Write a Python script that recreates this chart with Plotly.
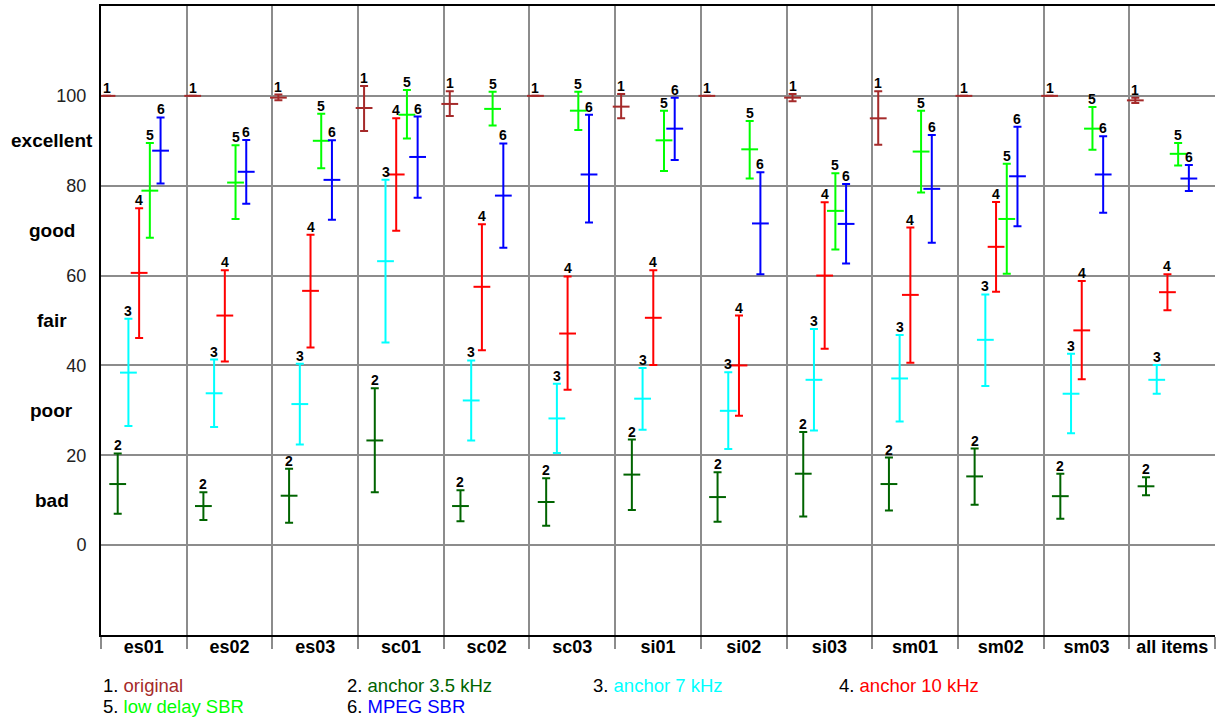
import plotly.graph_objects as go

categories = ["es01", "es02", "es03", "sc01", "sc02", "sc03", "si01", "si02",
              "si03", "sm01", "sm02", "sm03", "all items"]

series_names = ["original", "anchor 3.5 kHz", "anchor 7 kHz", "anchor 10 kHz",
                "low delay SBR", "MPEG SBR"]
series_colors = ["#A52A2A", "#006400", "#00FFFF", "#FF0000", "#00FF00", "#0000FF"]

orig_mean = [100, 100, 99.6, 97.3, 98.2, 100, 97.6, 100, 99.6, 95.0, 100, 100, 99.0]
orig_low = [100, 100, 99.0, 92.2, 95.5, 100, 95.0, 100, 98.8, 89.1, 100, 100, 98.4]
orig_high = [100, 100, 100.3, 102.2, 101.0, 100, 100.4, 100, 100.4, 101.0, 100, 100, 99.6]

a35_mean = [13.6, 8.7, 11.0, 23.3, 8.7, 9.6, 15.7, 10.7, 15.9, 13.6, 15.3, 10.9, 13.1]
a35_low = [7.0, 5.6, 5.0, 11.8, 5.3, 4.3, 7.8, 5.2, 6.4, 7.7, 9.0, 5.9, 11.1]
a35_high = [20.4, 11.8, 17.0, 34.9, 12.2, 14.9, 23.5, 16.2, 25.2, 19.5, 21.5, 15.9, 15.1]

a7_mean = [38.4, 33.8, 31.4, 63.2, 32.2, 28.2, 32.6, 29.9, 36.8, 37.1, 45.7, 33.7, 36.8]
a7_low = [26.5, 26.3, 22.4, 45.1, 23.3, 20.5, 25.7, 21.4, 25.5, 27.5, 35.4, 24.9, 33.7]
a7_high = [50.4, 41.3, 40.4, 81.3, 41.1, 35.9, 39.4, 38.5, 48.1, 46.8, 55.8, 42.6, 40.1]

a10_mean = [60.6, 51.1, 56.6, 82.5, 57.5, 47.1, 50.6, 40.0, 60.0, 55.7, 66.4, 47.8, 56.3]
a10_low = [46.1, 40.9, 44.0, 70.0, 43.4, 34.6, 40.1, 28.8, 43.7, 40.6, 56.4, 36.9, 52.3]
a10_high = [75.0, 61.2, 69.1, 95.0, 71.4, 59.8, 61.2, 51.1, 76.3, 70.7, 76.4, 58.8, 60.3]

ld_mean = [78.9, 80.7, 90.0, 95.8, 97.1, 96.7, 90.1, 88.1, 74.4, 87.6, 72.6, 92.7, 87.1]
ld_low = [68.4, 72.6, 83.9, 90.5, 93.4, 92.4, 83.3, 81.6, 65.8, 78.5, 60.4, 88.0, 84.5]
ld_high = [89.5, 89.0, 96.0, 101.3, 100.9, 100.9, 96.7, 94.4, 82.8, 96.7, 84.9, 97.5, 89.5]

mp_mean = [87.8, 83.1, 81.3, 86.4, 77.8, 82.5, 92.7, 71.6, 71.5, 79.3, 82.1, 82.5, 81.6]
mp_low = [80.5, 76.0, 72.4, 77.3, 66.2, 71.8, 85.7, 60.3, 62.7, 67.3, 71.0, 74.0, 78.8]
mp_high = [95.2, 90.2, 90.1, 95.4, 89.4, 95.8, 99.6, 83.0, 80.4, 91.3, 93.1, 91.0, 84.6]

means = [orig_mean, a35_mean, a7_mean, a10_mean, ld_mean, mp_mean]
lows = [orig_low, a35_low, a7_low, a10_low, ld_low, mp_low]
highs = [orig_high, a35_high, a7_high, a10_high, ld_high, mp_high]

y_ticks = [0, 20, 40, 60, 80, 100]
quality_labels = ["bad", "poor", "fair", "good", "excellent"]
quality_values = [10, 30, 50, 70, 90]

FONT = "Liberation Sans, Arial, sans-serif"
GRID = "#8c8c8c"

fig = go.Figure()
annotations = []
for k in range(6):
    xs = [i + 0.07 + k * 0.125 for i in range(len(categories))]
    m, lo, hi = means[k], lows[k], highs[k]
    fig.add_trace(go.Scatter(
        x=xs, y=m, mode="markers", name=series_names[k],
        marker=dict(symbol="line-ew", size=12, color=series_colors[k],
                    line=dict(width=2, color=series_colors[k])),
        error_y=dict(type="data", symmetric=False,
                     array=[h - v for h, v in zip(hi, m)],
                     arrayminus=[v - l for v, l in zip(m, lo)],
                     color=series_colors[k], thickness=2, width=4),
        showlegend=False, hoverinfo="skip"))
    for x, h in zip(xs, hi):
        annotations.append(dict(x=x, y=h, xref="x", yref="y", text=f"<b>{k+1}</b>",
                                showarrow=False, yanchor="bottom", yshift=-2,
                                font=dict(family=FONT, size=14, color="black")))

for q, v in zip(quality_labels, quality_values):
    annotations.append(dict(x=-0.044, y=v, xref="paper", yref="y", text=f"<b>{q}</b>",
                            showarrow=False, xanchor="center", yanchor="middle",
                            font=dict(family=FONT, size=19, color="black")))

legend_pos = [(0.0, 0), (0.2193, 0), (0.4399, 0), (0.6606, 0), (0.0, 1), (0.2193, 1)]
for k, (lx, row) in enumerate(legend_pos):
    annotations.append(dict(
        x=lx, y=-0.081 - row * 0.0333, xref="paper", yref="paper",
        text=f"<span style='color:black'>{k+1}. </span>"
             f"<span style='color:{series_colors[k]}'>{series_names[k]}</span>",
        showarrow=False, xanchor="left", yanchor="middle",
        font=dict(family=FONT, size=18.5, color="black")))

n = len(categories)
fig.update_layout(
    width=1216, height=717,
    margin=dict(l=101, r=1, t=6, b=82),
    paper_bgcolor="white", plot_bgcolor="white",
    showlegend=False,
    annotations=annotations,
    xaxis=dict(range=[0, n], tickmode="array",
               tickvals=[i + 0.5 for i in range(n)], ticktext=categories,
               tickfont=dict(family=FONT, size=18, color="black", weight="bold"),
               showgrid=False, ticks="", ticklen=0, zeroline=False,
               showline=True, linecolor="black", linewidth=2, mirror=True,
               ticklabelstandoff=-6,
               minor=dict(tickmode="array", tickvals=list(range(n + 1)),
                          ticks="outside", ticklen=12, tickwidth=2, tickcolor=GRID,
                          showgrid=True, gridcolor=GRID, gridwidth=2)),
    yaxis=dict(range=[-20, 120], tickmode="array", tickvals=y_ticks,
               tickfont=dict(family=FONT, size=18, color="#222"),
               showgrid=True, gridcolor=GRID, gridwidth=2, zeroline=False,
               showline=True, linecolor="black", linewidth=2, ticks="",
               ticklabelstandoff=9),
)

fig.write_html("out.html", config={"displayModeBar": False},
               post_script="document.body.style.margin='0px';document.body.style.overflow='hidden';")
